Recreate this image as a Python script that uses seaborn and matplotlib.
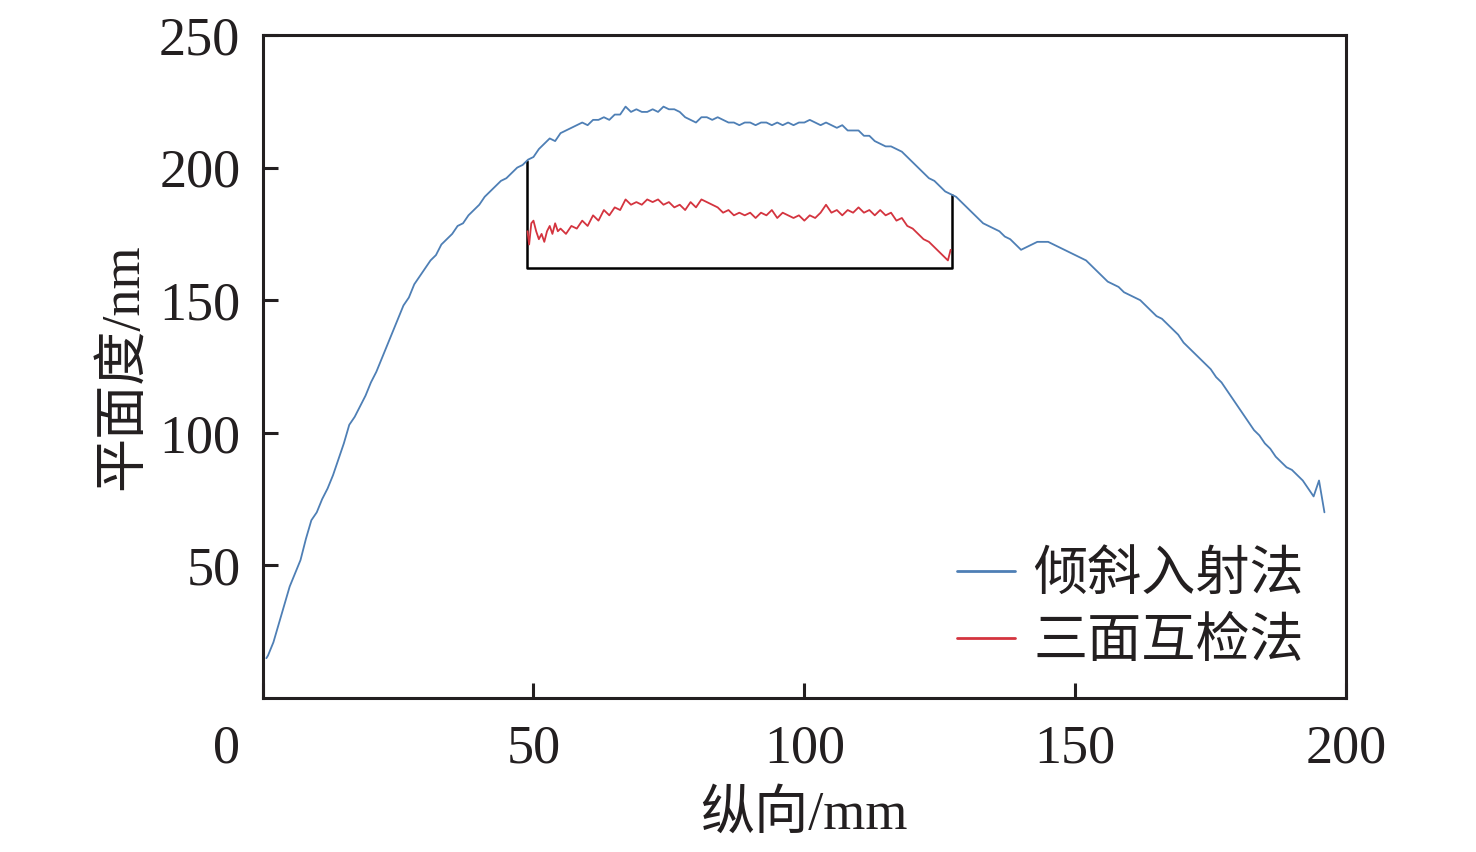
import numpy as np
import pandas as pd
import matplotlib
matplotlib.use("Agg")
import matplotlib.pyplot as plt
import seaborn as sns

# ---------------- data ----------------
blue_x = [0.7] + list(range(1, 197))
blue_y = [15,
          16, 21, 28, 35, 42, 47, 52, 60, 67, 70,
          75, 79, 84, 90, 96, 103, 106, 110, 114, 119,
          123, 128, 133, 138, 143, 148, 151, 156, 159, 162,
          165, 167, 171, 173, 175, 178, 179, 182, 184, 186,
          189, 191, 193, 195, 196, 198, 200, 201, 203, 204,
          207, 209, 211, 210, 213, 214, 215, 216, 217, 216,
          218, 218, 219, 218, 220, 220, 223, 221, 222, 221,
          221, 222, 221, 223, 222, 222, 221, 219, 218, 217,
          219, 219, 218, 219, 218, 217, 217, 216, 217, 217,
          216, 217, 217, 216, 217, 216, 217, 216, 217, 217,
          218, 217, 216, 217, 216, 215, 216, 214, 214, 214,
          212, 212, 210, 209, 208, 208, 207, 206, 204, 202,
          200, 198, 196, 195, 193, 191, 190, 189, 187, 185,
          183, 181, 179, 178, 177, 176, 174, 173, 171, 169,
          170, 171, 172, 172, 172, 171, 170, 169, 168, 167,
          166, 165, 163, 161, 159, 157, 156, 155, 153, 152,
          151, 150, 148, 146, 144, 143, 141, 139, 137, 134,
          132, 130, 128, 126, 124, 121, 119, 116, 113, 110,
          107, 104, 101, 99, 96, 94, 91, 89, 87, 86,
          84, 82, 79, 76, 82, 70]

red_x = [48.9, 49.2, 49.6, 50.0, 50.5, 51, 51.5, 52, 52.5, 53, 53.5, 54, 54.5, 55,
         56, 57, 58, 59, 60, 61, 62, 63, 64, 65, 66, 67, 68, 69, 70,
         71, 72, 73, 74, 75, 76, 77, 78, 79, 80, 81, 82, 83, 84, 85,
         86, 87, 88, 89, 90, 91, 92, 93, 94, 95, 96, 97, 98, 99, 100,
         101, 102, 103, 104, 105, 106, 107, 108, 109, 110, 111, 112, 113, 114, 115,
         116, 117, 118, 119, 120, 121, 122, 123, 124, 125, 126, 126.5, 127.0]
red_y = [176, 171, 179, 180, 176, 173, 175, 172, 176, 178, 175, 179, 176, 177,
         175, 178, 177, 180, 178, 182, 180, 184, 182, 185, 184, 188, 186, 187, 186,
         188, 187, 188, 186, 187, 185, 186, 184, 187, 185, 188, 187, 186, 185, 183,
         184, 182, 183, 182, 183, 181, 183, 182, 184, 181, 183, 182, 181, 182, 180,
         182, 181, 183, 186, 183, 184, 182, 184, 183, 185, 183, 184, 182, 184, 182,
         183, 180, 181, 178, 177, 175, 173, 172, 170, 168, 166, 165, 169]

bracket_start = 48.8
bracket_end = 127.2
bracket_bottom = 162

x_ticks = [0, 50, 100, 150, 200]
y_ticks = [50, 100, 150, 200, 250]
labels = ["倾斜入射法", "三面互检法"]
x_label = "纵向/mm"
y_label = "平面度/nm"

blue_c = "#4e7fb5"
red_c = "#d4343f"

# ---------------- plot ----------------
sns.set_style("ticks")
plt.rcParams["font.family"] = ["Liberation Serif", "Noto Sans CJK SC"]
plt.rcParams["axes.unicode_minus"] = False

fig = plt.figure(figsize=(14.76, 8.52), dpi=100)
ax = fig.add_axes([0.1779, 0.1808, 0.7341, 0.7781])

df_b = pd.DataFrame({"x": blue_x, "y": blue_y, "s": labels[0]})
df_r = pd.DataFrame({"x": red_x, "y": red_y, "s": labels[1]})
sns.lineplot(data=df_b, x="x", y="y", ax=ax, color=blue_c, lw=1.3, label=labels[0], estimator=None)
sns.lineplot(data=df_r, x="x", y="y", ax=ax, color=red_c, lw=1.3, label=labels[1], estimator=None)

top_l = np.interp(bracket_start, blue_x, blue_y)
top_r = np.interp(bracket_end, blue_x, blue_y)
ax.plot([bracket_start, bracket_start, bracket_end, bracket_end],
        [top_l, bracket_bottom, bracket_bottom, top_r], color="black", lw=1.8, zorder=1)

ax.set_xlim(0, 200)
ax.set_ylim(0, 250)
ax.set_xticks(x_ticks)
ax.set_xticklabels([""] + [str(t) for t in x_ticks[1:]])
ax.set_yticks(y_ticks)
ax.set_yticklabels([str(t) for t in y_ticks])
ax.tick_params(axis="both", direction="in", length=11, width=2.2, labelsize=39, colors="#231f20")
ax.tick_params(axis="x", pad=19)
ax.tick_params(axis="y", pad=16)
ax.annotate("0", xy=(0, 0), xycoords="axes fraction", xytext=(-26, -19),
            textcoords="offset points", ha="center", va="top", fontsize=39, color="#231f20")

for sp in ax.spines.values():
    sp.set_linewidth(2.2)
    sp.set_color("#231f20")

ax.set_xlabel(x_label, fontsize=39, color="#231f20")
ax.set_ylabel(y_label, fontsize=39, color="#231f20")
ax.xaxis.set_label_coords(0.5, -0.14)
ax.yaxis.set_label_coords(-0.105, 0.5)

leg = ax.legend(loc="lower right", frameon=False, fontsize=39, handlelength=1.06,
                handletextpad=0.34, labelspacing=0.31, borderaxespad=0.3,
                bbox_to_anchor=(0.996, -0.014))
for line in leg.get_lines():
    line.set_linewidth(2.0)
for t in leg.get_texts():
    t.set_color("#231f20")

fig.savefig("out.png", dpi=100)
